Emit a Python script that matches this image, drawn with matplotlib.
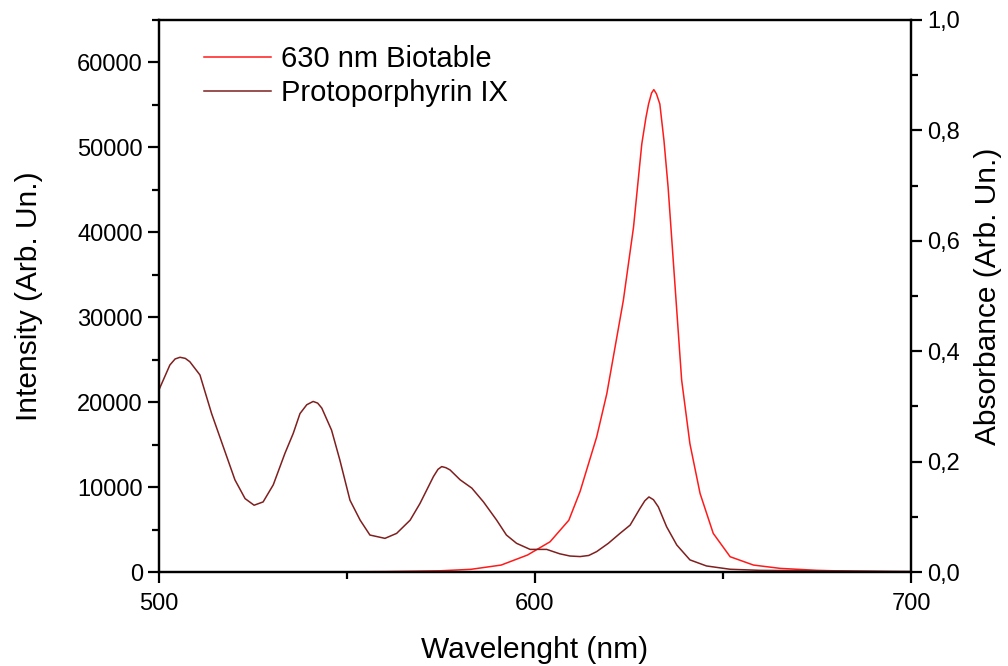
import matplotlib.pyplot as plt
from matplotlib.ticker import MultipleLocator, FuncFormatter

plt.rcParams["font.family"] = ["Liberation Sans", "DejaVu Sans"]

# 630 nm Biotable emission (intensity, left axis)
bio_wl = [500, 520, 540, 560, 575, 583, 591, 598, 604, 609, 612, 616.4, 619.1, 621.3,
          623.5, 626.2, 628.4, 629.5, 630.2, 631.0, 631.6, 632.3, 633.2, 634.3, 635.4,
          637.7, 639, 641.2, 643.9, 647.4, 651.9, 658.1, 665.2, 675, 685, 700]
bio_int = [0, 0, 0, 50, 150, 320, 820, 2000, 3560, 6100, 9500, 15900, 21000, 26500,
           32000, 40600, 50400, 53500, 55100, 56400, 56800, 56300, 55100, 50800, 45300,
           30800, 22600, 15100, 9250, 4550, 1800, 820, 430, 200, 80, 0]

# Protoporphyrin IX absorbance (right axis)
pp_wl = [500, 502.9, 504.3, 505.6, 507.0, 508.2, 510.9, 514, 517.1, 520.2, 522.9, 525.3,
         527.7, 530.4, 533.5, 535.7, 537.5, 539.3, 541, 542.2, 543.3, 545.9, 548.1, 550.8,
         553.5, 556.1, 560.1, 563.2, 566.8, 569.4, 573, 574.2, 575.2, 576.3, 577.4, 580.1,
         583.2, 586.3, 589.8, 592.4, 595.1, 598.7, 603.1, 606.6, 609.3, 612, 614.3, 616.4,
         619.5, 622.6, 625.3, 627.9, 629.2, 630.3, 631.5, 632.8, 635, 637.7, 641.2, 645.6,
         651.9, 660, 680, 700]
pp_abs = [0.330, 0.375, 0.386, 0.389, 0.387, 0.381, 0.357, 0.287, 0.227, 0.167, 0.133, 0.121,
          0.127, 0.158, 0.215, 0.251, 0.287, 0.303, 0.309, 0.306, 0.297, 0.257, 0.203, 0.130,
          0.094, 0.067, 0.061, 0.070, 0.094, 0.124, 0.173, 0.186, 0.191, 0.189, 0.185, 0.167,
          0.152, 0.127, 0.094, 0.067, 0.052, 0.041, 0.041, 0.033, 0.029, 0.028, 0.030, 0.037,
          0.052, 0.070, 0.085, 0.115, 0.129, 0.136, 0.131, 0.118, 0.082, 0.049, 0.022, 0.011,
          0.005, 0.003, 0.002, 0.001]

fig = plt.figure(figsize=(10.08, 6.66), dpi=100)
ax = fig.add_axes([0.1577, 0.1411, 0.7461, 0.8289])
ax2 = ax.twinx()

l1, = ax.plot(bio_wl, bio_int, color="#FF1A1A", lw=1.1, label="630 nm Biotable")
l2, = ax2.plot(pp_wl, pp_abs, color="#7F1F1F", lw=1.1, label="Protoporphyrin IX")

ax.set_xlim(500, 700)
ax.set_ylim(0, 65000)
ax2.set_ylim(0, 1.0)

ax.xaxis.set_major_locator(MultipleLocator(100))
ax.xaxis.set_minor_locator(MultipleLocator(50))
ax.yaxis.set_major_locator(MultipleLocator(10000))
ax.yaxis.set_minor_locator(MultipleLocator(5000))
ax2.yaxis.set_major_locator(MultipleLocator(0.2))
ax2.yaxis.set_minor_locator(MultipleLocator(0.1))
ax2.yaxis.set_major_formatter(FuncFormatter(lambda v, p: f"{v:.1f}".replace(".", ",")))

for a in (ax, ax2):
    for s in a.spines.values():
        s.set_linewidth(1.6)
    a.tick_params(which="major", direction="out", length=8, width=1.6, labelsize=17)
    a.tick_params(which="minor", direction="out", length=5, width=1.6)
ax.tick_params(axis="x", pad=7)

ax.set_xlabel("Wavelenght (nm)", fontsize=21.5, labelpad=15)
ax.set_ylabel("Intensity (Arb. Un.)", fontsize=21.5, labelpad=25)
ax2.set_ylabel("Absorbance (Arb. Un.)", fontsize=21.5, labelpad=10)

ax.legend(handles=[l1, l2], loc="upper left", bbox_to_anchor=(0.017, 1.012), frameon=False,
          fontsize=21, handlelength=2.3, handletextpad=0.35, labelspacing=0.2,
          borderaxespad=0.7)

fig.savefig("out.png", dpi=100)
